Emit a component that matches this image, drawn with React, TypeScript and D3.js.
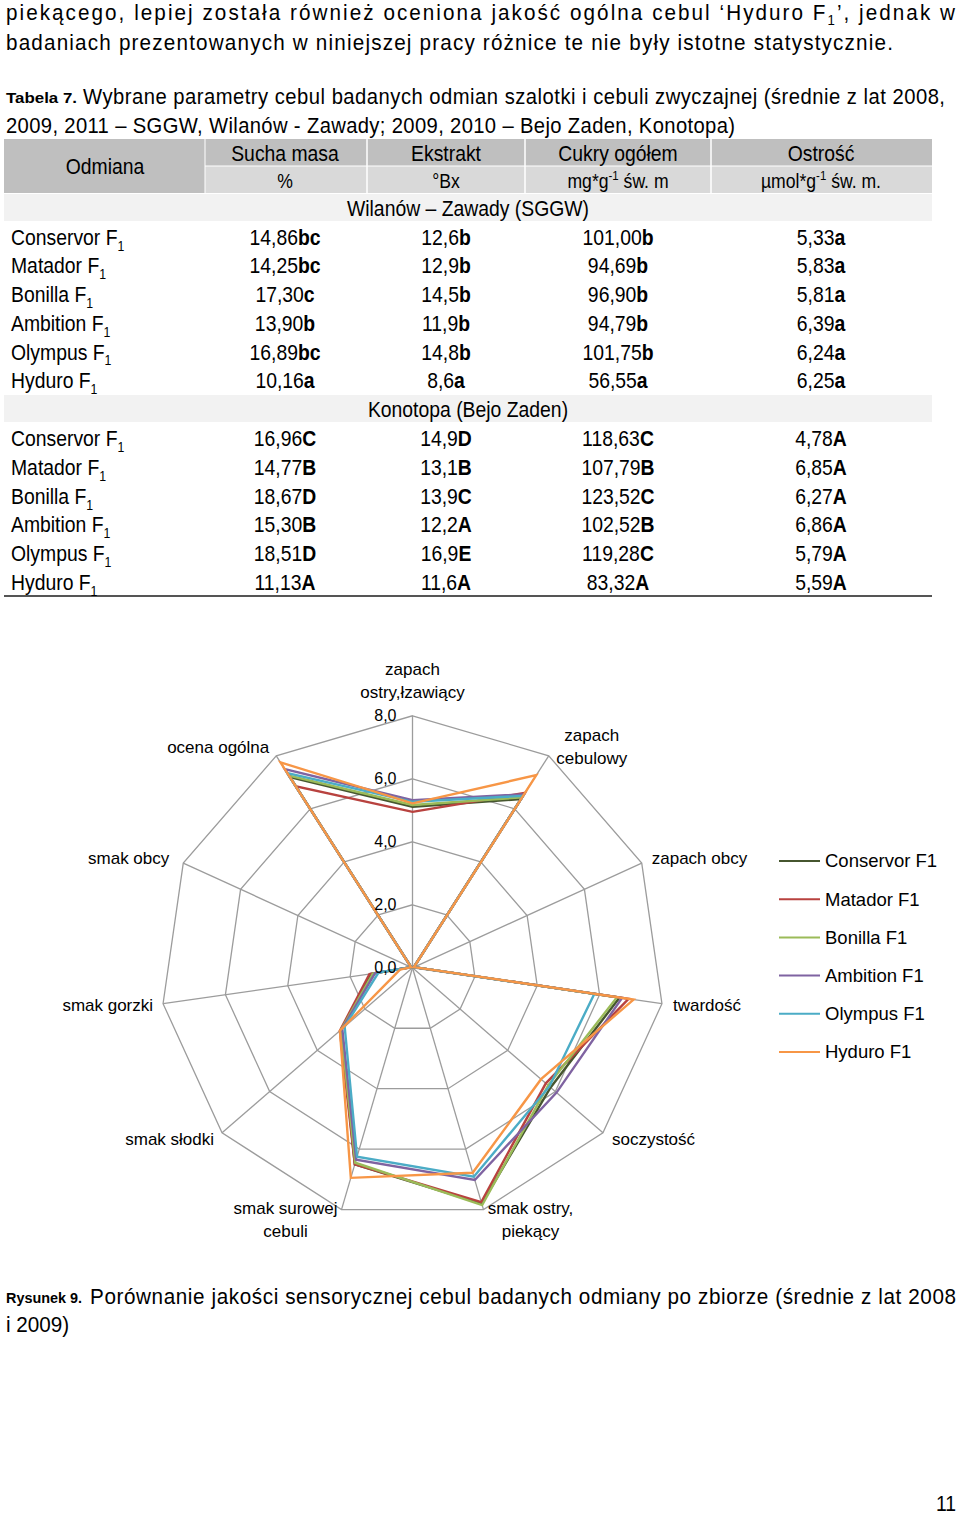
import React from "react";
import * as d3 from "d3";

// ---------- Table data ----------
const VARIETIES = ["Conservor", "Matador", "Bonilla", "Ambition", "Olympus", "Hyduro"];
const W_SUCHA = [14.86, 14.25, 17.3, 13.9, 16.89, 10.16];
const W_SUCHA_G = ["bc", "bc", "c", "b", "bc", "a"];
const W_EKSTR = [12.6, 12.9, 14.5, 11.9, 14.8, 8.6];
const W_EKSTR_G = ["b", "b", "b", "b", "b", "a"];
const W_CUKRY = [101.0, 94.69, 96.9, 94.79, 101.75, 56.55];
const W_CUKRY_G = ["b", "b", "b", "b", "b", "a"];
const W_OSTR = [5.33, 5.83, 5.81, 6.39, 6.24, 6.25];
const W_OSTR_G = ["a", "a", "a", "a", "a", "a"];
const K_SUCHA = [16.96, 14.77, 18.67, 15.3, 18.51, 11.13];
const K_SUCHA_G = ["C", "B", "D", "B", "D", "A"];
const K_EKSTR = [14.9, 13.1, 13.9, 12.2, 16.9, 11.6];
const K_EKSTR_G = ["D", "B", "C", "A", "E", "A"];
const K_CUKRY = [118.63, 107.79, 123.52, 102.52, 119.28, 83.32];
const K_CUKRY_G = ["C", "B", "C", "B", "C", "A"];
const K_OSTR = [4.78, 6.85, 6.27, 6.86, 5.79, 5.59];
const K_OSTR_G = ["A", "A", "A", "A", "A", "A"];

// ---------- Radar data ----------
const AXES = [
  ["zapach", "ostry,łzawiący"],
  ["zapach", "cebulowy"],
  ["zapach obcy"],
  ["twardość"],
  ["soczystość"],
  ["smak ostry,", "piekący"],
  ["smak surowej", "cebuli"],
  ["smak słodki"],
  ["smak gorzki"],
  ["smak obcy"],
  ["ocena ogólna"],
];
const SERIES_NAMES = ["Conservor F1", "Matador F1", "Bonilla F1", "Ambition F1", "Olympus F1", "Hyduro F1"];
const CONSERVOR = [5.11, 6.37, 0.05, 6.64, 5.8, 7.8, 6.5, 3.0, 1.33, 0.05, 7.2];
const MATADOR = [4.95, 6.6, 0.05, 6.93, 5.6, 7.75, 6.5, 3.05, 1.38, 0.05, 6.85];
const BONILLA = [5.17, 6.43, 0.05, 6.56, 5.7, 7.85, 6.45, 3.0, 1.27, 0.05, 7.25];
const AMBITION = [5.32, 6.55, 0.05, 6.72, 6.05, 7.02, 6.35, 2.95, 1.2, 0.05, 7.5];
const OLYMPUS = [5.27, 6.49, 0.05, 5.83, 5.75, 6.91, 6.25, 2.85, 1.09, 0.05, 7.35];
const HYDURO = [5.22, 7.27, 0.05, 7.09, 5.4, 6.78, 6.95, 3.05, 0.4, 0.05, 7.75];
const SERIES = [CONSERVOR, MATADOR, BONILLA, AMBITION, OLYMPUS, HYDURO];
const TICKS = [0, 2, 4, 6, 8];

// ---------- Styles / layout ----------
const COLORS = ["#46562F", "#B8423F", "#9BBB59", "#7F63A1", "#4BACC6", "#F79646"];
const BODY_FONT = "'Liberation Sans', Arial, sans-serif";
const CHART_FONT = "'Liberation Sans', Arial, sans-serif";
const CX = 412.5;
const CY = 967.8;
const R = 252;
const LABEL_LAYOUT: { anchor: string; dx: number; dys: number[] }[] = [
  { anchor: "middle", dx: 0, dys: [-47, -24] },
  { anchor: "middle", dx: 43, dys: [-21, 2] },
  { anchor: "start", dx: 10, dys: [-5] },
  { anchor: "start", dx: 11, dys: [1] },
  { anchor: "start", dx: 9, dys: [6] },
  { anchor: "middle", dx: 47, dys: [-2, 21] },
  { anchor: "middle", dx: -56, dys: [-2, 21] },
  { anchor: "end", dx: -8, dys: [6] },
  { anchor: "end", dx: -10, dys: [1] },
  { anchor: "end", dx: -14, dys: [-5] },
  { anchor: "end", dx: -7, dys: [-9] },
];

const fmt = (v: number, d: number) => v.toFixed(d).replace(".", ",");

function T({
  x,
  y,
  anchor = "start",
  size = 22,
  sx = 0.88,
  weight,
  len,
  children,
}: {
  x: number;
  y: number;
  anchor?: string;
  size?: number;
  sx?: number;
  weight?: string;
  len?: number;
  children: React.ReactNode;
}) {
  return (
    <text
      transform={`translate(${x},${y}) scale(${sx},1)`}
      dy="0.35em"
      textAnchor={anchor}
      fontSize={size}
      fontWeight={weight}
      fontFamily={BODY_FONT}
      fill="#000"
      textLength={len ? len / sx : undefined}
      lengthAdjust={len ? "spacing" : undefined}
    >
      {children}
    </text>
  );
}

export default function App() {
  const n = AXES.length;
  const r = d3.scaleLinear().domain([0, 8]).range([0, R]);
  const ang = (i: number) => (i * 2 * Math.PI) / n;
  const radial = d3
    .lineRadial<number>()
    .angle((_d, i) => ang(i))
    .radius((d) => r(d))
    .curve(d3.curveLinearClosed);

  const colX = [285, 446, 618, 821];
  const rowsW = VARIETIES.map((_v, i) => 237 + i * 28.7);
  const rowsK = VARIETIES.map((_v, i) => 438.5 + i * 28.7);

  const groups = [
    { rows: rowsW, cols: [[W_SUCHA, W_SUCHA_G, 2], [W_EKSTR, W_EKSTR_G, 1], [W_CUKRY, W_CUKRY_G, 2], [W_OSTR, W_OSTR_G, 2]] },
    { rows: rowsK, cols: [[K_SUCHA, K_SUCHA_G, 2], [K_EKSTR, K_EKSTR_G, 1], [K_CUKRY, K_CUKRY_G, 2], [K_OSTR, K_OSTR_G, 2]] },
  ] as { rows: number[]; cols: [number[], string[], number][] }[];

  return (
    <svg
      width={960}
      height={1517}
      style={{ position: "absolute", left: 0, top: 0, background: "#fff" }}
      xmlns="http://www.w3.org/2000/svg"
    >
      <rect x={0} y={0} width={960} height={1517} fill="#fff" />
      {/* Paragraph */}
      <T x={6} y={12} len={949} sx={0.94}>
        piekącego, lepiej została również oceniona jakość ogólna cebul ‘Hyduro F
        <tspan fontSize={14} dy={5}>1</tspan>
        <tspan dy={-5}>’, jednak w</tspan>
      </T>
      <T x={6} y={42} len={887} sx={0.94}>
        badaniach prezentowanych w niniejszej pracy różnice te nie były istotne statystycznie.
      </T>
      {/* Table caption */}
      <text x={6} y={98} dy="0.35em" fontSize={15} fontWeight="bold" fontFamily={BODY_FONT} textLength={71} lengthAdjust="spacingAndGlyphs">
        Tabela 7.
      </text>
      <T x={83} y={96} len={862} sx={0.92}>
        Wybrane parametry cebul badanych odmian szalotki i cebuli zwyczajnej (średnie z lat 2008,
      </T>
      <T x={6} y={125} len={729} sx={0.92}>
        2009, 2011 – SGGW, Wilanów - Zawady; 2009, 2010 – Bejo Zaden, Konotopa)
      </T>

      {/* Table */}
      <rect x={4} y={139} width={928} height={27} fill="#BFBFBF" />
      <rect x={205} y={166} width={727} height={27} fill="#D9D9D9" />
      <rect x={4} y={139} width={201} height={54} fill="#BFBFBF" />
      {[367, 525, 711].map((x) => (
        <line key={x} x1={x} x2={x} y1={139} y2={193} stroke="#fff" strokeWidth={1.5} />
      ))}
      <line x1={205} x2={205} y1={139} y2={193} stroke="#fff" strokeWidth={1} />
      <line x1={205} x2={932} y1={166} y2={166} stroke="#fff" strokeWidth={1} />
      <rect x={4} y={194} width={928} height={27} fill="#F2F2F2" />
      <rect x={4} y={395} width={928} height={27} fill="#F2F2F2" />
      <line x1={4} x2={932} y1={596} y2={596} stroke="#555" strokeWidth={2} />

      <T x={105} y={166} anchor="middle">Odmiana</T>
      <T x={285} y={153} anchor="middle">Sucha masa</T>
      <T x={446} y={153} anchor="middle">Ekstrakt</T>
      <T x={618} y={153} anchor="middle">Cukry ogółem</T>
      <T x={821} y={153} anchor="middle">Ostrość</T>
      <T x={285} y={181} anchor="middle" size={20}>%</T>
      <T x={446} y={181} anchor="middle" size={20}>°Bx</T>
      <T x={618} y={181} anchor="middle" size={20}>
        mg*g<tspan fontSize={13} dy={-8}>-1</tspan>
        <tspan dy={8}> św. m</tspan>
      </T>
      <T x={821} y={181} anchor="middle" size={20}>
        µmol*g<tspan fontSize={13} dy={-8}>-1</tspan>
        <tspan dy={8}> św. m.</tspan>
      </T>
      <T x={468} y={208} anchor="middle">Wilanów – Zawady (SGGW)</T>
      <T x={468} y={409} anchor="middle">Konotopa (Bejo Zaden)</T>

      {groups.map((g, gi) => (
        <g key={gi}>
          {VARIETIES.map((name, i) => (
            <g key={name}>
              <T x={11} y={g.rows[i]}>
                {name} F<tspan fontSize={14} dy={6}>1</tspan>
              </T>
              {g.cols.map(([vals, grp, d], ci) => (
                <T key={ci} x={colX[ci]} y={g.rows[i]} anchor="middle">
                  {fmt(vals[i], d)}
                  <tspan fontWeight="bold">{grp[i]}</tspan>
                </T>
              ))}
            </g>
          ))}
        </g>
      ))}

      {/* Radar chart */}
      <g transform={`translate(${CX},${CY})`}>
        {TICKS.filter((t) => t > 0).map((t) => (
          <path key={t} d={radial(AXES.map(() => t)) || ""} fill="none" stroke="#9C9C9C" strokeWidth={1.3} />
        ))}
        {AXES.map((_a, i) => (
          <line
            key={i}
            x1={0}
            y1={0}
            x2={r(8) * Math.sin(ang(i))}
            y2={-r(8) * Math.cos(ang(i))}
            stroke="#9C9C9C"
            strokeWidth={1.3}
          />
        ))}
        {SERIES.map((s, si) => (
          <path key={si} d={radial(s) || ""} fill="none" stroke={COLORS[si]} strokeWidth={2.4} strokeLinejoin="miter" />
        ))}
        {TICKS.map((t) => (
          <text
            key={t}
            x={-16}
            y={-r(t)}
            dy="0.35em"
            textAnchor="end"
            fontFamily={CHART_FONT}
            fontSize={16}
            fill="#000"
          >
            {fmt(t, 1)}
          </text>
        ))}
      </g>
      <g fontFamily={CHART_FONT} fontSize={17} fill="#000">
        {AXES.map((lines, i) => {
          const vx = CX + r(8) * Math.sin(ang(i));
          const vy = CY - r(8) * Math.cos(ang(i));
          const L = LABEL_LAYOUT[i];
          return lines.map((ln, li) => (
            <text key={`${i}-${li}`} x={vx + L.dx} y={vy + L.dys[li]} dy="0.35em" textAnchor={L.anchor}>
              {ln}
            </text>
          ));
        })}
      </g>
      {/* Legend */}
      <g fontFamily={CHART_FONT} fontSize={18.5} fill="#000">
        {SERIES_NAMES.map((nm, i) => {
          const y = 861 + i * 38.2;
          return (
            <g key={nm}>
              <line x1={779} x2={820} y1={y} y2={y} stroke={COLORS[i]} strokeWidth={2} />
              <text x={825} y={y} dy="0.35em">{nm}</text>
            </g>
          );
        })}
      </g>

      {/* Figure caption */}
      <text x={6} y={1298} dy="0.35em" fontSize={14} fontWeight="bold" fontFamily={BODY_FONT} textLength={76} lengthAdjust="spacingAndGlyphs">
        Rysunek 9.
      </text>
      <T x={90} y={1296} len={866} sx={0.94}>
        Porównanie jakości sensorycznej cebul badanych odmiany po zbiorze (średnie z lat 2008
      </T>
      <T x={6} y={1324} sx={0.94}>i 2009)</T>
      <T x={956} y={1503} anchor="end">11</T>
    </svg>
  );
}
